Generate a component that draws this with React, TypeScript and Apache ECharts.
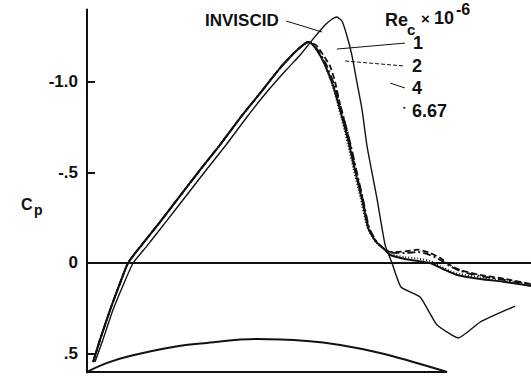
import React, { useEffect, useRef } from "react";
import * as echarts from "echarts";

// x: fraction of chord (0 = leading edge), Cp values (negative up)
const yTicks = [-1.0, -0.5, 0, 0.5];
const yTickLabels = ["-1.0", "-.5", "0", ".5"];
const xMax = 1.233;

const viscousAscent: [number, number][] = [
  [0.017, 0.547], [0.036, 0.425], [0.064, 0.26], [0.092, 0.11], [0.114, 0.0],
  [0.147, -0.088], [0.203, -0.227], [0.258, -0.37], [0.314, -0.514], [0.369, -0.652],
  [0.425, -0.801], [0.481, -0.939], [0.536, -1.077], [0.578, -1.166], [0.6, -1.204],
  [0.614, -1.221],
];
const re4Descent: [number, number][] = [
  [0.625, -1.21], [0.642, -1.166], [0.661, -1.094], [0.683, -0.983], [0.703, -0.845],
  [0.725, -0.68], [0.744, -0.514], [0.764, -0.348], [0.781, -0.193], [0.803, -0.116],
  [0.828, -0.072],
];
const re2Descent: [number, number][] = [
  [0.626, -1.21], [0.645, -1.166], [0.665, -1.094], [0.687, -0.983], [0.707, -0.845],
  [0.729, -0.68], [0.748, -0.514], [0.767, -0.348], [0.784, -0.193], [0.805, -0.116],
  [0.83, -0.07],
];
const re667Descent: [number, number][] = [
  [0.624, -1.212], [0.64, -1.17], [0.659, -1.1], [0.68, -0.99], [0.7, -0.85],
  [0.721, -0.685], [0.74, -0.52], [0.76, -0.355], [0.778, -0.2], [0.8, -0.12],
  [0.826, -0.075],
];
const re1Descent: [number, number][] = [
  [0.636, -1.204], [0.656, -1.149], [0.675, -1.088], [0.689, -1.0], [0.703, -0.873],
  [0.727, -0.69], [0.746, -0.514], [0.766, -0.348], [0.782, -0.193], [0.804, -0.116],
  [0.829, -0.072],
];
const re1Aft: [number, number][] = [
  [0.842, -0.061], [0.883, -0.064], [0.919, -0.074], [0.953, -0.055], [0.981, -0.028],
  [1.008, 0.011], [1.036, 0.039], [1.092, 0.066], [1.161, 0.088], [1.233, 0.116],
];
const re2Aft: [number, number][] = [
  [0.842, -0.058], [0.883, -0.055], [0.919, -0.061], [0.953, -0.044], [0.981, -0.017],
  [1.008, 0.017], [1.036, 0.044], [1.092, 0.072], [1.161, 0.094], [1.233, 0.119],
];
const re4Aft: [number, number][] = [
  [0.842, -0.044], [0.883, -0.022], [0.919, -0.011], [0.953, 0.0], [0.989, 0.033],
  [1.028, 0.066], [1.092, 0.088], [1.161, 0.105], [1.233, 0.127],
];
const re667Aft: [number, number][] = [
  [0.842, -0.05], [0.883, -0.033], [0.919, -0.025], [0.953, -0.011], [0.981, 0.017],
  [1.008, 0.044], [1.036, 0.061], [1.092, 0.08], [1.161, 0.099], [1.233, 0.122],
];
const inviscid: [number, number][] = [
  [0.022, 0.547], [0.044, 0.425], [0.072, 0.26], [0.103, 0.11], [0.128, 0.0],
  [0.164, -0.088], [0.219, -0.227], [0.275, -0.37], [0.331, -0.514], [0.386, -0.652],
  [0.442, -0.801], [0.497, -0.939], [0.553, -1.066], [0.592, -1.149], [0.628, -1.238],
  [0.661, -1.315], [0.681, -1.348], [0.694, -1.359], [0.708, -1.337], [0.722, -1.254],
  [0.736, -1.144], [0.75, -0.994], [0.764, -0.845], [0.778, -0.641], [0.806, -0.348],
  [0.828, -0.099], [0.847, 0.0], [0.872, 0.133], [0.925, 0.188], [0.95, 0.27],
  [0.972, 0.343], [1.031, 0.414], [1.092, 0.326], [1.189, 0.238],
];
const airfoilUpper: [number, number][] = [
  [0, 0.602], [0.056, 0.552], [0.119, 0.514], [0.239, 0.464], [0.333, 0.442],
  [0.472, 0.42], [0.611, 0.431], [0.703, 0.453], [0.814, 0.497], [0.906, 0.547],
  [1.0, 0.602],
];
const airfoilChord: [number, number][] = [[0, 0.602], [1.0, 0.602]];
const zeroLine: [number, number][] = [[0, 0], [xMax, 0]];
const leaderInviscid: [number, number][] = [[0.553, -1.337], [0.653, -1.276]];
const leader1: [number, number][] = [[0.694, -1.182], [0.883, -1.215]];
const leader2: [number, number][] = [[0.717, -1.116], [0.883, -1.088]];
const leader4: [number, number][] = [[0.842, -0.994], [0.883, -0.967]];
const leader667: [number, number][] = [[0.878, -0.859], [0.884, -0.856]];

const INK = "#111";
const FONT = "Liberation Sans";

function line(data: [number, number][], width: number, type: any = "solid", smooth: number | boolean = 0.2, z = 2) {
  return {
    type: "line",
    data,
    symbol: "none",
    smooth,
    silent: true,
    z,
    lineStyle: { color: INK, width, type },
  };
}

export default function App() {
  const ref = useRef<HTMLDivElement>(null);
  useEffect(() => {
    if (!ref.current) return;
    const chart = echarts.init(ref.current, null, { renderer: "svg" });
    const txt = (x: number, y: number, text: string, size: number, align = "left") => ({
      type: "text",
      x,
      y,
      silent: true,
      style: {
        text,
        fill: INK,
        font: `bold ${size}px "${FONT}"`,
        textAlign: align,
        textVerticalAlign: "middle",
      },
    });
    chart.setOption({
      animation: false,
      grid: { left: 87, right: 0, top: 9.6, bottom: 5.5 },
      xAxis: { type: "value", min: 0, max: xMax, show: false },
      yAxis: {
        type: "value",
        inverse: true,
        min: -1.4,
        max: 0.605,
        axisLine: { show: true, onZero: false, lineStyle: { color: INK, width: 2 } },
        axisTick: { show: true, inside: true, length: 8, customValues: yTicks, lineStyle: { color: INK, width: 2 } },
        axisLabel: {
          customValues: yTicks,
          margin: 9,
          color: INK,
          fontFamily: FONT,
          fontWeight: "bold",
          fontSize: 17,
          formatter: (v: number) => {
            const i = yTicks.findIndex((t) => Math.abs(t - v) < 1e-6);
            return i >= 0 ? yTickLabels[i] : "";
          },
        },
        splitLine: { show: false },
      },
      series: [
        line(zeroLine, 1.8, "solid", false),
        line(airfoilUpper, 2, "solid", 0.4),
        line(airfoilChord, 2, "solid", false),
        line(inviscid, 1.4, "solid", 0.15),
        line([...viscousAscent, ...re1Descent, ...re1Aft], 1.8, [6, 3], 0.2),
        line([...viscousAscent, ...re2Descent, ...re2Aft], 1.8, [8, 3, 2, 3], 0.2),
        line([...viscousAscent, ...re667Descent, ...re667Aft], 1.8, [1, 2], 0.2),
        line([...viscousAscent, ...re4Descent, ...re4Aft], 2, "solid", 0.2, 3),
        line(leaderInviscid, 1, "solid", false),
        line(leader1, 1, "solid", false),
        line(leader2, 1, [4, 2], false),
        line(leader4, 1, "solid", false),
        line(leader667, 1.5, "solid", false),
      ],
      graphic: [
        txt(205, 20, "INVISCID", 17),
        txt(385, 20, "Re", 18),
        txt(407, 29, "c", 15),
        txt(421, 18, "×", 15),
        txt(434, 18, "10", 18),
        txt(456, 9, "-6", 16),
        txt(413, 43, "1", 18),
        txt(412, 66, "2", 18),
        txt(412, 88, "4", 18),
        txt(412, 111, "6.67", 18),
        txt(21, 204, "C", 16),
        txt(34, 210, "p", 14),
      ],
    });
    return () => chart.dispose();
  }, []);
  return (
    <div
      ref={ref}
      style={{ position: "absolute", left: 0, top: 0, width: 531, height: 378 }}
    />
  );
}
